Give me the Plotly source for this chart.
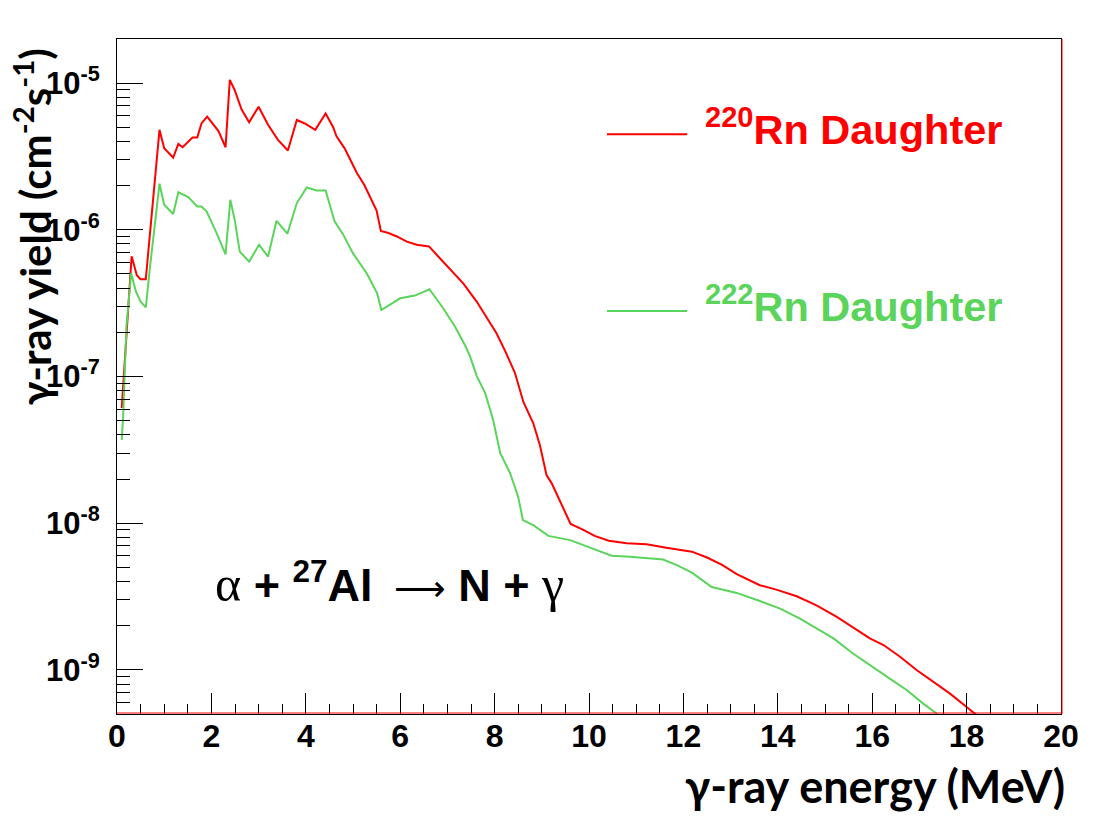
import plotly.graph_objects as go

# gamma-ray energy (MeV) and yield (cm^-2 s^-1)
rn220_energy = [0.10, 0.31, 0.42, 0.50, 0.61, 0.90, 1.00, 1.19, 1.30, 1.39, 1.60, 1.70, 1.79, 1.91,
                2.15, 2.30, 2.39, 2.49, 2.64, 2.80, 3.00, 3.20, 3.41, 3.62, 3.81, 3.98, 4.20, 4.42,
                4.58, 4.65, 4.82, 5.08, 5.24, 5.40, 5.50, 5.59, 5.75, 5.93, 6.14, 6.35, 6.61, 6.84,
                7.09, 7.34, 7.62, 7.83, 8.04, 8.22, 8.43, 8.61, 8.82, 8.96, 9.10, 9.21, 9.39, 9.61,
                9.88, 10.12, 10.42, 10.80, 11.22, 11.64, 12.18, 12.50, 12.82, 13.13, 13.62, 13.97,
                14.40, 14.82, 15.25, 15.53, 15.95, 16.24, 16.59, 16.94, 17.30, 17.65, 18.00, 18.40]
rn220_yield = [6.1e-8, 6.6e-7, 4.9e-7, 4.6e-7, 4.6e-7, 4.8e-6, 3.6e-6, 3.1e-6, 3.85e-6, 3.65e-6,
               4.25e-6, 4.25e-6, 5.3e-6, 5.9e-6, 4.7e-6, 3.65e-6, 1.05e-5, 9.0e-6, 6.6e-6, 5.4e-6,
               6.9e-6, 5.2e-6, 4.1e-6, 3.47e-6, 5.6e-6, 5.3e-6, 4.8e-6, 6.2e-6, 5.0e-6, 4.33e-6,
               3.6e-6, 2.45e-6, 2.02e-6, 1.6e-6, 1.35e-6, 9.8e-7, 9.5e-7, 9.0e-7, 8.3e-7, 7.9e-7,
               7.7e-7, 6.4e-7, 5.2e-7, 4.3e-7, 3.24e-7, 2.5e-7, 1.97e-7, 1.5e-7, 1.06e-7, 6.7e-8,
               4.8e-8, 3.4e-8, 2.13e-8, 1.87e-8, 1.4e-8, 9.9e-9, 9.0e-9, 8.2e-9, 7.6e-9, 7.3e-9,
               7.2e-9, 6.8e-9, 6.4e-9, 5.84e-9, 5.2e-9, 4.5e-9, 3.78e-9, 3.53e-9, 3.18e-9, 2.76e-9,
               2.3e-9, 2.02e-9, 1.64e-9, 1.48e-9, 1.23e-9, 1.0e-9, 8.3e-10, 6.9e-10, 5.6e-10, 4.4e-10]

rn222_energy = [0.10, 0.13, 0.20, 0.30, 0.40, 0.50, 0.61, 0.70, 0.90, 1.00, 1.19, 1.30, 1.51, 1.70,
                1.79, 1.90, 2.11, 2.30, 2.40, 2.50, 2.60, 2.80, 3.01, 3.20, 3.38, 3.61, 3.81, 4.02,
                4.23, 4.42, 4.61, 4.79, 5.00, 5.11, 5.29, 5.51, 5.60, 6.00, 6.31, 6.46, 6.62, 6.91,
                7.16, 7.37, 7.48, 7.62, 7.80, 7.97, 8.12, 8.33, 8.50, 8.60, 8.82, 9.14, 9.60, 9.98,
                10.48, 10.87, 11.22, 11.57, 11.86, 12.18, 12.60, 13.13, 13.62, 14.05, 14.47, 14.82,
                15.18, 15.60, 16.02, 16.38, 16.73, 17.08, 17.37, 17.60]
rn222_yield = [3.7e-8, 5.3e-8, 2.2e-7, 5.06e-7, 3.8e-7, 3.24e-7, 2.96e-7, 5.6e-7, 2.06e-6, 1.48e-6,
               1.28e-6, 1.8e-6, 1.67e-6, 1.44e-6, 1.44e-6, 1.33e-6, 9.5e-7, 6.8e-7, 1.6e-6, 1.14e-6,
               7.1e-7, 6.07e-7, 7.9e-7, 6.57e-7, 1.15e-6, 9.4e-7, 1.52e-6, 1.94e-6, 1.85e-6, 1.85e-6,
               1.14e-6, 9.3e-7, 6.9e-7, 6.1e-7, 5.06e-7, 3.7e-7, 2.84e-7, 3.41e-7, 3.56e-7, 3.73e-7,
               3.93e-7, 2.92e-7, 2.19e-7, 1.64e-7, 1.37e-7, 1.01e-7, 7.7e-8, 5.05e-8, 3.0e-8, 2.19e-8,
               1.51e-8, 1.05e-8, 9.7e-9, 8.2e-9, 7.67e-9, 6.9e-9, 6.0e-9, 5.9e-9, 5.8e-9, 5.66e-9,
               5.18e-9, 4.6e-9, 3.68e-9, 3.35e-9, 2.95e-9, 2.62e-9, 2.24e-9, 1.91e-9, 1.64e-9, 1.29e-9,
               1.05e-9, 8.7e-10, 7.3e-10, 5.9e-10, 5.04e-10, 4.2e-10]

x_ticks = [0, 2, 4, 6, 8, 10, 12, 14, 16, 18, 20]
y_exps = [-9, -8, -7, -6, -5]

RED = "#ff0000"
GREEN = "#5ad45a"
SANS = "Liberation Sans"
TITLE_FONT = "Lato"

fig = go.Figure()
fig.add_trace(go.Scatter(x=rn220_energy, y=rn220_yield, mode="lines",
                         line=dict(color=RED, width=2), name="220Rn Daughter"))
fig.add_trace(go.Scatter(x=rn222_energy, y=rn222_yield, mode="lines",
                         line=dict(color=GREEN, width=2), name="222Rn Daughter"))

minor_y = [k * 10.0 ** e for e in range(-10, -4) for k in range(2, 10)]

# the page body adds an 8px offset, so the figure is a little smaller than the window
fig.update_layout(
    width=1107, height=813,
    plot_bgcolor="white", paper_bgcolor="white",
    margin=dict(l=109, r=54, t=31, b=107),
    showlegend=False,
    xaxis=dict(
        range=[0, 20], showgrid=False, zeroline=False, automargin=False,
        showline=True, linecolor="black", linewidth=1, mirror=True,
        ticks="inside", ticklen=21, tickcolor="black",
        tickvals=x_ticks, ticktext=[str(v) for v in x_ticks],
        tickfont=dict(family=SANS, size=32, color="black", weight="bold"),
        ticklabelstandoff=-6,
        minor=dict(dtick=0.5, ticks="inside", ticklen=10, tickcolor="black", showgrid=False),
    ),
    yaxis=dict(
        type="log", range=[-9.30, -4.70], showgrid=False, zeroline=False, automargin=False,
        showline=True, linecolor="black", linewidth=1, mirror=True,
        ticks="inside", ticklen=26, tickcolor="black",
        tickvals=[10.0 ** e for e in y_exps],
        ticktext=[f"10<sup>{e}</sup>" for e in y_exps],
        tickfont=dict(family=SANS, size=31, color="black", weight="bold"),
        ticklabelstandoff=10,
        minor=dict(tickvals=minor_y, ticks="inside", ticklen=13, tickcolor="black", showgrid=False),
    ),
)

# thin red edges just inside the bottom and right of the frame, as in the original canvas
fig.add_shape(type="line", xref="paper", yref="paper", ysizemode="pixel", yanchor=0,
              x0=0, x1=1, y0=1, y1=1, line=dict(color=RED, width=1))
fig.add_shape(type="line", xref="paper", yref="paper", xsizemode="pixel", xanchor=1,
              x0=1, x1=1, y0=0, y1=1, line=dict(color=RED, width=1))

# axis titles
fig.add_annotation(text="<b>γ-ray energy (MeV)</b>", xref="paper", yref="paper",
                   x=1.006, y=-0.106, xanchor="right", yanchor="middle", showarrow=False,
                   font=dict(family=TITLE_FONT, size=45, color="black"))
fig.add_annotation(text="<b>γ-ray yield (cm<sup>-2</sup>s<sup>-1</sup>)</b>", xref="paper", yref="paper",
                   x=-0.089, y=0.99, xanchor="center", yanchor="top", textangle=-90, showarrow=False,
                   font=dict(family=TITLE_FONT, size=42, color="black"))

# legend drawn by hand
for label, color, ypos in [("<b><sup>220</sup>Rn Daughter</b>", RED, 0.859),
                           ("<b><sup>222</sup>Rn Daughter</b>", GREEN, 0.597)]:
    fig.add_shape(type="line", xref="paper", yref="paper", x0=0.519, x1=0.604, y0=ypos, y1=ypos,
                  line=dict(color=color, width=2))
    fig.add_annotation(text=label, xref="paper", yref="paper", x=0.621, y=ypos + 0.01,
                       xanchor="left", yanchor="middle", showarrow=False,
                       font=dict(family=SANS, size=41.5, color=color))

# reaction label
greek = "<span style='font-family:Liberation Serif;font-size:50px'>{}</span>"
arrow = "<span style='font-family:DejaVu Sans;font-size:36px'>⟶</span>"
thin = "\u2009"
reaction = (greek.format("α") + " <b>+ <sup>27</sup>Al</b>" + thin + " " + arrow
            + " <b>N +</b> " + greek.format("γ"))
fig.add_annotation(text=reaction, xref="paper", yref="paper", x=0.1017, y=0.195,
                   xanchor="left", yanchor="middle", showarrow=False,
                   font=dict(family=SANS, size=45, color="black"))

fig.write_html("out.html")
